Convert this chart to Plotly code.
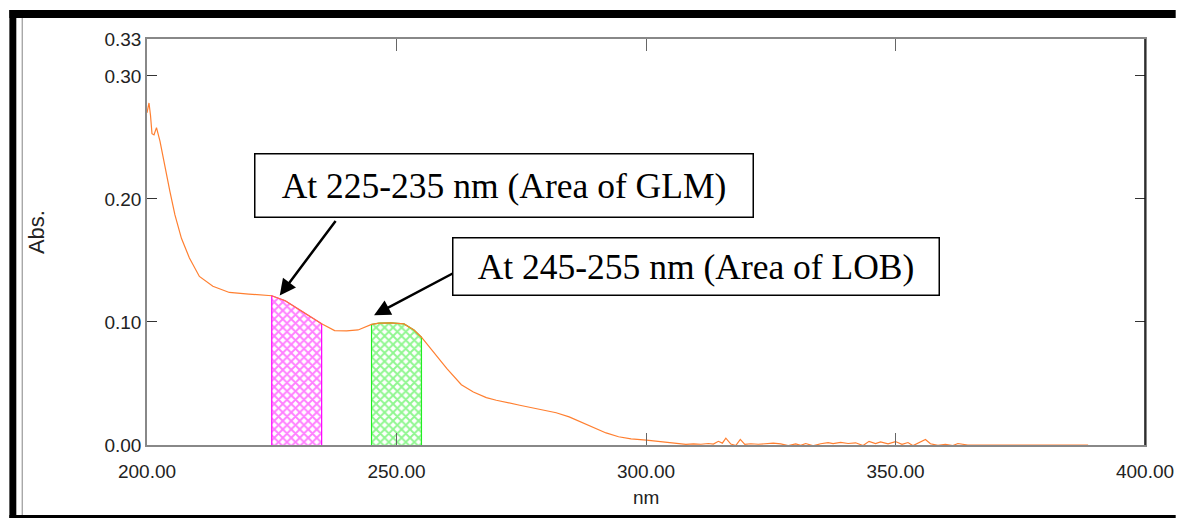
import plotly.graph_objects as go

# ---- data ----
wavelength_nm = [
    200.0, 200.4, 200.7, 201.0, 201.4, 201.9, 202.6, 203.6, 204.6, 205.6,
    206.9, 208.5, 210.5, 213.2, 216.5, 220.4, 223.0, 225.0, 227.7, 231.0,
    233.0, 235.0, 237.6, 240.0, 242.3, 245.0, 246.5, 248.9, 251.5, 253.5,
    255.0, 257.5, 260.1, 263.0, 265.4, 268.0, 270.0, 274.7, 279.3, 282.0,
    284.6, 287.0, 289.9, 292.0, 294.5, 297.0, 300.1, 302.5, 305.0, 306.5,
    308.0, 309.5, 311.0, 312.5, 313.5, 314.5, 315.3, 316.0, 317.0, 318.0,
    318.9, 319.8, 321.0, 322.5, 324.0, 325.5, 327.0, 328.5, 330.0, 331.0,
    332.0, 333.5, 335.0, 336.5, 337.5, 339.0, 340.5, 342.0, 343.5, 344.7,
    346.0, 347.0, 348.5, 350.0, 351.3, 352.5, 353.5, 355.0, 356.0, 357.0,
    358.5, 360.0, 361.5, 362.5, 363.5, 364.5, 370.0, 380.0, 388.6,
]
absorbance = [
    0.270, 0.278, 0.268, 0.253, 0.252, 0.258, 0.247, 0.225, 0.206, 0.187,
    0.168, 0.152, 0.137, 0.129, 0.124, 0.1227, 0.1222, 0.1213, 0.1172, 0.109,
    0.1035, 0.0985, 0.093, 0.0928, 0.0935, 0.0980, 0.0990, 0.0992, 0.0984, 0.0935,
    0.0876, 0.0755, 0.0620, 0.0490, 0.0431, 0.0385, 0.0364, 0.0323, 0.0283, 0.0262,
    0.0229, 0.0185, 0.0135, 0.0098, 0.0067, 0.0050, 0.0040, 0.0030, 0.0020, 0.0008,
    0.0005, 0.0009, 0.0006, 0.0012, 0.0008, 0.0030, 0.0015, 0.0055, 0.0008, -0.0004,
    0.0045, 0.0005, 0.0010, 0.0006, 0.0011, 0.0015, 0.0009, -0.0005, 0.0009, -0.0003,
    0.0012, -0.0006, 0.0010, 0.0020, 0.0012, 0.0022, 0.0012, 0.0018, -0.0004, 0.0030,
    0.0012, 0.0025, 0.0010, 0.0028, 0.0005, 0.0020, -0.0005, 0.0022, 0.0045, 0.0010,
    -0.0003, 0.0005, -0.0004, 0.0012, 0.0008, 0.0000, 0.0000, 0.0000, 0.0000,
]

glm_band = [225.0, 235.0]
lob_band = [245.0, 255.0]

x_tickvals = [200, 250, 300, 350, 400]
y_tickvals = [0.0, 0.10, 0.20, 0.30, 0.33]
y_ticktext = ["0.00", "0.10", "0.20", "0.30", "0.33"]

label_glm = "At 225-235 nm (Area of GLM)"
label_lob = "At 245-255 nm (Area of LOB)"

# ---- layout geometry (pixels) ----
W, H = 1186, 518
L, R, T, B = 147, 1155, 39, 445
pw, ph = R - L, B - T


def px(xp):
    return (xp - L) / pw


def py(yp):
    return (B - yp) / ph


def band(lo, hi):
    xs, ys = [], []
    for x, y in zip(wavelength_nm, absorbance):
        if lo <= x <= hi:
            xs.append(x)
            ys.append(y)
    return [xs[0]] + xs + [xs[-1]], [0] + ys + [0]


fig = go.Figure()

gx, gy = band(*glm_band)
fig.add_trace(go.Scatter(
    x=gx, y=gy, mode="lines", fill="toself",
    line=dict(color="#ff00ff", width=1.2),
    fillcolor="white",
    fillpattern=dict(shape="x", fgcolor="#ff00ff", bgcolor="white", size=6, solidity=0.55),
    hoverinfo="skip", showlegend=False,
))
lx, ly = band(*lob_band)
fig.add_trace(go.Scatter(
    x=lx, y=ly, mode="lines", fill="toself",
    line=dict(color="#22ee22", width=1.2),
    fillcolor="white",
    fillpattern=dict(shape="x", fgcolor="#22ee22", bgcolor="white", size=6, solidity=0.55),
    hoverinfo="skip", showlegend=False,
))
fig.add_trace(go.Scatter(
    x=wavelength_nm, y=absorbance, mode="lines",
    line=dict(color="#ff7f30", width=1.2),
    showlegend=False,
))

tick_font = dict(family="Liberation Sans, Arial, sans-serif", size=19, color="#222222")

fig.update_layout(
    width=W, height=H,
    margin=dict(l=L, r=W - R, t=T, b=H - B),
    paper_bgcolor="white", plot_bgcolor="white",
    xaxis=dict(
        range=[200, 400], tickvals=x_tickvals, tickformat=".2f",
        ticks="inside", ticklen=12, tickcolor="#666666", tickwidth=1.2,
        showline=True, linecolor="#888888", linewidth=1.5, mirror="ticks",
        showgrid=False, zeroline=False, tickfont=tick_font, ticklabelstandoff=8,
        ticklabeloverflow="allow",
    ),
    yaxis=dict(
        range=[0, 0.33], tickvals=y_tickvals, ticktext=y_ticktext,
        ticks="inside", ticklen=10, tickcolor="#333333", tickwidth=1.2,
        showline=True, linecolor="#888888", linewidth=1.5, mirror="ticks",
        showgrid=False, zeroline=False, tickfont=tick_font, ticklabelstandoff=0,
        ticklabeloverflow="allow",
    ),
)

# frame shapes
shapes = [
    dict(type="rect", xref="paper", yref="paper", x0=px(8), x1=px(1186), y0=py(18), y1=py(10),
         fillcolor="black", line=dict(width=0), layer="above"),
    dict(type="rect", xref="paper", yref="paper", x0=px(8), x1=px(15), y0=py(518), y1=py(10),
         fillcolor="black", line=dict(width=0), layer="above"),
    dict(type="rect", xref="paper", yref="paper", x0=px(8), x1=px(1186), y0=py(518), y1=py(515),
         fillcolor="black", line=dict(width=0), layer="above"),
    dict(type="line", xref="paper", yref="paper", x0=px(21), x1=px(21), y0=py(515), y1=py(18),
         line=dict(color="#999999", width=1.2), layer="above"),
    dict(type="line", xref="paper", yref="paper", x0=1, x1=1, y0=0, y1=1,
         line=dict(color="#111111", width=1.5), layer="above"),
]
fig.update_layout(shapes=shapes)

serif = dict(family="Liberation Serif, Times New Roman, serif", size=35.5, color="black")
ann = [
    dict(xref="paper", yref="paper", x=px(35), y=py(232), text="Abs.", textangle=-90,
         xanchor="center", yanchor="middle", showarrow=False,
         font=dict(family="Liberation Sans, Arial", size=22, color="#222222")),
    dict(xref="paper", yref="paper", x=px(651), y=py(497), text="nm",
         xanchor="center", yanchor="middle", showarrow=False, font=tick_font),
    # arrows
    dict(x=226.6, y=0.1215, xref="x", yref="y", ax=57, ay=-76, axref="pixel", ayref="pixel",
         text="", showarrow=True, arrowhead=2, arrowsize=1.3, arrowwidth=2.5, arrowcolor="black"),
    dict(x=245.5, y=0.1055, xref="x", yref="y", ax=81, ay=-43, axref="pixel", ayref="pixel",
         text="", showarrow=True, arrowhead=2, arrowsize=1.3, arrowwidth=2.5, arrowcolor="black"),
    # boxes
    dict(xref="paper", yref="paper", x=px(508), y=py(185.5), text=label_glm, showarrow=False,
         font=serif, bgcolor="white", bordercolor="black", borderwidth=1.5, borderpad=0,
         width=497, height=62, xanchor="center", yanchor="middle"),
    dict(xref="paper", yref="paper", x=px(701), y=py(266.5), text=label_lob, showarrow=False,
         font=serif, bgcolor="white", bordercolor="black", borderwidth=1.5, borderpad=0,
         width=485, height=56, xanchor="center", yanchor="middle"),
]
fig.update_layout(annotations=ann)

fig.write_html("out.html", config={"displayModeBar": False},
               post_script="document.body.style.margin='0';")
